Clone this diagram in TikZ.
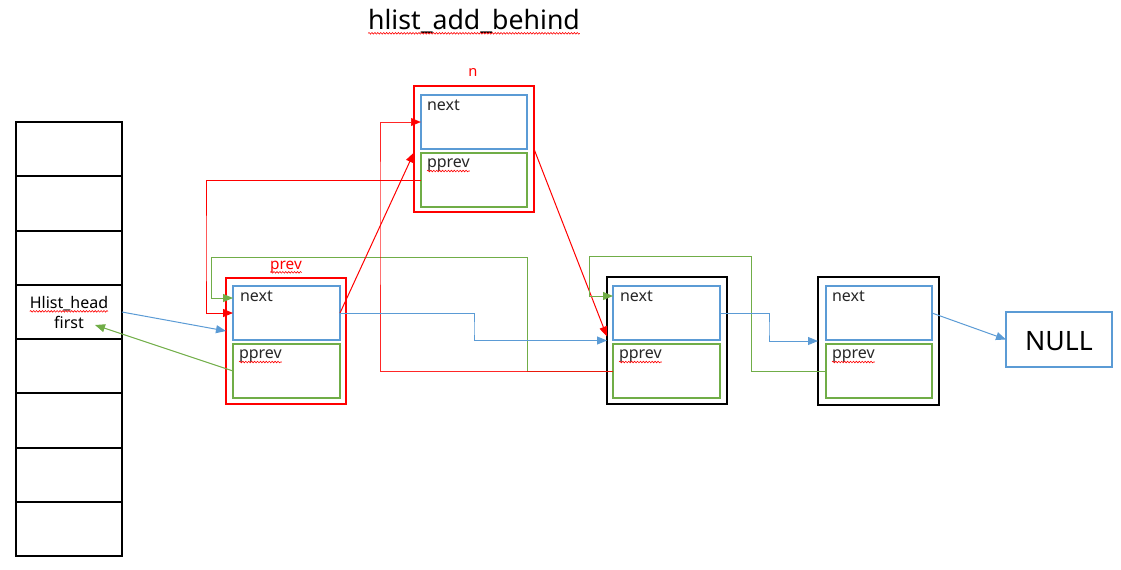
\documentclass[tikz,border=0pt]{standalone}
\usepackage{fontspec}
\setmainfont{Noto Sans}
\usetikzlibrary{arrows.meta,fit,decorations.pathmorphing}
\definecolor{cblue}{HTML}{5B9BD5}
\definecolor{cgreen}{HTML}{70AD47}
\definecolor{cred}{HTML}{FF0000}
\begin{document}
\begin{tikzpicture}[x=0.75pt,y=-0.75pt,
  every node/.style={inner sep=0pt, outer sep=0pt},
  frame/.style={draw=black, line width=1.5pt},
  rframe/.style={draw=cred, line width=1.6pt},
  bfield/.style={draw=cblue, line width=1.6pt},
  gfield/.style={draw=cgreen, line width=1.6pt},
  lbl/.style={font=\fontsize{12}{14}\selectfont, text=black!85, anchor=base west},
  arrtip/.style={-{Triangle[length=7.5pt,width=6pt]}},
  bl/.style={draw=cblue, line width=0.75pt, arrtip},
  gl/.style={draw=cgreen, line width=0.75pt, arrtip},
  rl/.style={draw=cred, line width=0.75pt, arrtip},
  squig/.style={draw=cred, line width=0.45pt, decorate, decoration={snake, amplitude=0.6pt, segment length=2.2pt}}
]
\useasboundingbox (0,0) rectangle (1121,569);

% title
\node[font=\fontsize{20}{24}\selectfont, anchor=base] (title) at (474,29.3) {hlist\_add\_behind};
\draw[squig] ([yshift=-3pt]title.base west) -- ([yshift=-3pt]title.base east);

% hash column
\foreach \t/\b [count=\i] in {122/176,176/231,231/285,285/339,339/393,393/448,448/502,502/556}
  \node[frame, fit={(16,\t)(122,\b)}] (cell\i) {};
\node[font=\fontsize{12}{14}\selectfont, anchor=base] (hh) at (69,308) {Hlist\_head};
\draw[squig] ([yshift=-2.5pt]hh.base west) -- ([yshift=-2.5pt]hh.base east);
\node[font=\fontsize{12}{14}\selectfont, anchor=base] (first) at (69,328) {first};

% node n
\node[rframe, fit={(414,86)(534,212)}] (n) {};
\node[bfield, fit={(421,95)(527,149)}] (nn) {};
\node[gfield, fit={(421,153)(527,207)}] (np) {};
\node[font=\fontsize{11}{13}\selectfont, text=cred, anchor=base] (nlab) at (473,76) {n};
\node[lbl] (nnl) at ([shift={(6,15)}]nn.north west) {next};
\node[lbl] (npl) at ([shift={(6,14)}]np.north west) {pprev};
\draw[squig] ([yshift=-3pt]npl.base west) -- ([yshift=-3pt]npl.base east);

% node prev
\node[rframe, fit={(226,278)(346,404)}] (p) {};
\node[bfield, fit={(233,286)(340,340)}] (pn) {};
\node[gfield, fit={(233,344)(340,398)}] (pp) {};
\node[font=\fontsize{11.5}{13}\selectfont, text=cred, anchor=base] (plab) at (286,269) {prev};
\draw[squig] ([yshift=-2.5pt]plab.base west) -- ([yshift=-2.5pt]plab.base east);
\node[lbl] (pnl) at ([shift={(7,15)}]pn.north west) {next};
\node[lbl] (ppl) at ([shift={(6,14)}]pp.north west) {pprev};
\draw[squig] ([yshift=-3pt]ppl.base west) -- ([yshift=-3pt]ppl.base east);

% third node
\node[frame, fit={(607,277)(727,404)}] (c3) {};
\node[bfield, fit={(613,286)(720,340)}] (c3n) {};
\node[gfield, fit={(613,344)(720,398)}] (c3p) {};
\node[lbl] (c3nl) at ([shift={(7,15)}]c3n.north west) {next};
\node[lbl] (c3pl) at ([shift={(6,14)}]c3p.north west) {pprev};
\draw[squig] ([yshift=-3pt]c3pl.base west) -- ([yshift=-3pt]c3pl.base east);

% fourth node
\node[frame, fit={(818,277)(939,405)}] (c4) {};
\node[bfield, fit={(826,286)(932,340)}] (c4n) {};
\node[gfield, fit={(826,344)(932,398)}] (c4p) {};
\node[lbl] (c4nl) at ([shift={(6,15)}]c4n.north west) {next};
\node[lbl] (c4pl) at ([shift={(6,14)}]c4p.north west) {pprev};
\draw[squig] ([yshift=-3pt]c4pl.base west) -- ([yshift=-3pt]c4pl.base east);

% NULL
\node[bfield, fit={(1006,312)(1112,367)}] (null) {};
\node[font=\fontsize{20}{24}\selectfont, anchor=base] (nulll) at (1059,350) {NULL};

% connectors
\draw[bl] (cell4.east) -- ([yshift=7.5pt]p.west);
\draw[gl] (pp.west) -- (95,325);
\draw[rl] (np.west) -| (206,250) |- (pn.west);
\draw[gl] (c3p.west) -| (527,257) -| (211,298) -- ([yshift=11.25pt]pn.west);
\draw[rl, draw opacity=0.85] (c3p.west) -| (380,200) |- (nn.west);
\draw[rl] (pn.east) -- ([yshift=-2.6pt]n.west);
\draw[rl] (n.east) -- ([yshift=3pt]c3.west);
\draw[bl] (pn.east) -| (474,330) |- (c3.west);
\draw[gl] (c4p.west) -| (751,256) -| (589,296) -- ([yshift=12.75pt]c3n.west);
\draw[bl] (c3n.east) -| (769,330) |- (c4.west);
\draw[bl] (c4n.east) -- (null.west);
\end{tikzpicture}
\end{document}
